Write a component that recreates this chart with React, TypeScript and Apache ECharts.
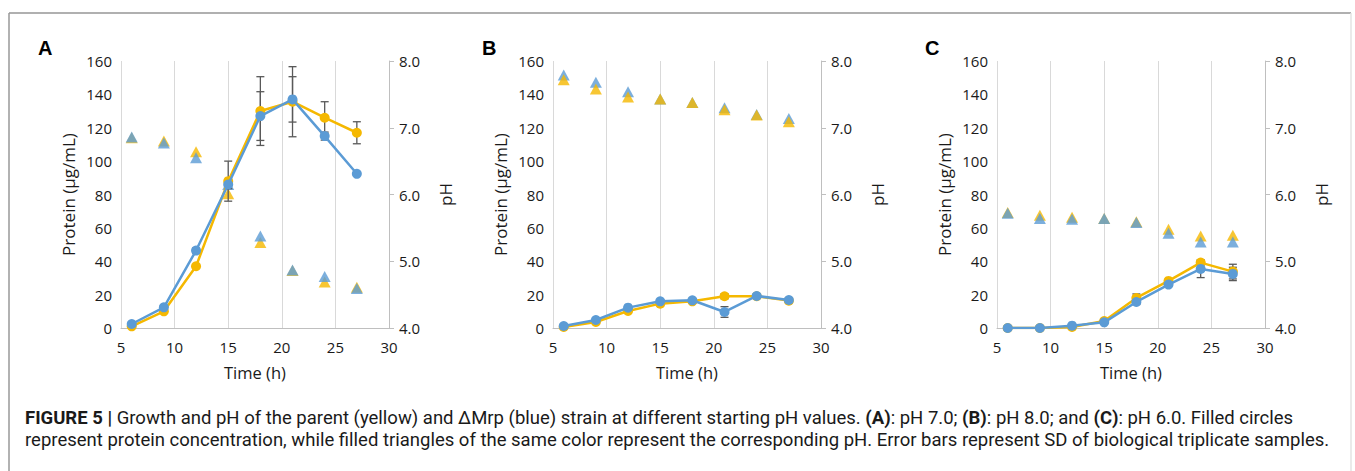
import React, { useEffect, useRef } from "react";
import * as echarts from "echarts";

const times = [6, 9, 12, 15, 18, 21, 24, 27];
const panelLetters = ["A", "B", "C"];

// Panel A (starting pH 7.0)
const aParentProtein = [1, 10, 37, 88, 130, 135.6, 126, 117];
const aMrpProtein = [2.4, 12.4, 46.4, 86, 127, 137, 115, 92.4];
const aParentSD = [0.5, 1, 1, 12, 20.6, 21, 9.6, 6.6];
const aMrpSD = [0.5, 1, 1.5, 2.5, 14.6, 13.6, 2.4, 0.5];
const aParentPH = [6.85, 6.8, 6.64, 6.01, 5.28, 4.86, 4.69, 4.61];
const aMrpPH = [6.86, 6.77, 6.55, 6.15, 5.38, 4.87, 4.77, 4.59];

// Panel B (starting pH 8.0)
const bParentProtein = [0.6, 3.6, 10.2, 14.6, 16, 19, 19, 16.4];
const bMrpProtein = [1.2, 4.8, 12.2, 16, 16.6, 9.6, 19.2, 16.8];
const bParentSD = [0.3, 0.5, 1, 1, 1, 1.5, 1, 1];
const bMrpSD = [0.3, 0.5, 1, 1, 1, 3.2, 1, 1];
const bParentPH = [7.72, 7.58, 7.46, 7.43, 7.38, 7.27, 7.19, 7.09];
const bMrpPH = [7.79, 7.68, 7.54, 7.43, 7.38, 7.3, 7.2, 7.14];

// Panel C (starting pH 6.0)
const cParentProtein = [0, 0, 0.6, 4.2, 18, 28.2, 39.2, 33.8];
const cMrpProtein = [0, 0, 1.4, 3.4, 15.6, 26, 35.4, 32.4];
const cParentSD = [0, 0, 0.3, 0.8, 2.4, 1, 1.5, 4.4];
const cMrpSD = [0, 0, 0.3, 0.6, 1.5, 1, 5.2, 4];
const cParentPH = [5.73, 5.69, 5.66, 5.64, 5.59, 5.48, 5.38, 5.39];
const cMrpPH = [5.72, 5.64, 5.63, 5.64, 5.58, 5.42, 5.29, 5.29];

const proteinTicks = { min: 0, max: 160, interval: 20 };
const phTicks = { min: 4, max: 8, interval: 1 };
const timeTicks = { min: 5, max: 30, interval: 5 };

const YELLOW = "#F5B800";
const BLUE = "#5B9BD5";
const ERR = "#595959";
const AX_FONT = "'Open Sans', sans-serif";

const panels = [
  { pp: aParentProtein, mp: aMrpProtein, ps: aParentSD, ms: aMrpSD, pph: aParentPH, mph: aMrpPH, yellowOnTop: false },
  { pp: bParentProtein, mp: bMrpProtein, ps: bParentSD, ms: bMrpSD, pph: bParentPH, mph: bMrpPH, yellowOnTop: true },
  { pp: cParentProtein, mp: cMrpProtein, ps: cParentSD, ms: cMrpSD, pph: cParentPH, mph: cMrpPH, yellowOnTop: false },
];

const gridLefts = [121, 553, 997];
const GRID_W = 268;
const GRID_TOP = 61;
const GRID_H = 267;

function errorSeries(xi: number, yi: number, means: number[], sds: number[], z: number) {
  return {
    type: "custom",
    xAxisIndex: xi,
    yAxisIndex: yi,
    z,
    silent: true,
    data: times.map((t, i) => [t, means[i] - sds[i], means[i] + sds[i]]),
    renderItem: (params: any, api: any) => {
      const x = api.value(0);
      const lo = api.coord([x, api.value(1)]);
      const hi = api.coord([x, api.value(2)]);
      const cap = 4;
      const st = { stroke: ERR, lineWidth: 1.3 };
      return {
        type: "group",
        children: [
          { type: "line", shape: { x1: lo[0], y1: lo[1], x2: hi[0], y2: hi[1] }, style: st },
          { type: "line", shape: { x1: lo[0] - cap, y1: lo[1], x2: lo[0] + cap, y2: lo[1] }, style: st },
          { type: "line", shape: { x1: hi[0] - cap, y1: hi[1], x2: hi[0] + cap, y2: hi[1] }, style: st },
        ],
      };
    },
  };
}

export default function App() {
  const ref = useRef<HTMLDivElement>(null);
  useEffect(() => {
    if (!ref.current) return;
    const chart = echarts.init(ref.current, undefined, { renderer: "svg" });

    const grids: any[] = [];
    const xAxes: any[] = [];
    const yAxes: any[] = [];
    const series: any[] = [];
    const graphics: any[] = [];

    panels.forEach((p, k) => {
      grids.push({ left: gridLefts[k], top: GRID_TOP, width: GRID_W, height: GRID_H });
      xAxes.push({
        type: "value",
        gridIndex: k,
        ...timeTicks,
        name: "Time (h)",
        nameLocation: "middle",
        nameGap: 36,
        nameTextStyle: { fontFamily: AX_FONT, fontSize: 16.5, color: "#1a1a1a" },
        axisLine: { show: true, onZero: false, lineStyle: { color: "#bfbfbf", width: 1 } },
        axisTick: { show: false },
        axisLabel: { fontFamily: AX_FONT, fontSize: 15, color: "#1a1a1a", margin: 11 },
        splitLine: { show: true, lineStyle: { color: "#d9d9d9", width: 1 } },
      });
      yAxes.push({
        type: "value",
        gridIndex: k,
        position: "left",
        ...proteinTicks,
        name: "Protein (µg/mL)",
        nameLocation: "middle",
        nameRotate: 90,
        nameGap: 44,
        nameTextStyle: { fontFamily: AX_FONT, fontSize: 17, color: "#1a1a1a" },
        axisLine: { show: false },
        axisTick: { show: false },
        axisLabel: { fontFamily: AX_FONT, fontSize: 15, color: "#1a1a1a", margin: 9 },
        splitLine: { show: false },
      });
      yAxes.push({
        type: "value",
        gridIndex: k,
        position: "right",
        ...phTicks,
        name: "pH",
        nameLocation: "middle",
        nameRotate: 90,
        nameGap: 48,
        nameTextStyle: { fontFamily: AX_FONT, fontSize: 17, color: "#1a1a1a" },
        axisLine: { show: true, lineStyle: { color: "#bfbfbf", width: 1 } },
        axisTick: { show: true, inside: false, length: 5, lineStyle: { color: "#bfbfbf" } },
        axisLabel: { fontFamily: AX_FONT, fontSize: 15, color: "#1a1a1a", margin: 10, formatter: (v: number) => v.toFixed(1) },
        splitLine: { show: false },
      });
      const yl = k * 2;
      const yr = k * 2 + 1;
      series.push(
        {
          type: "scatter", xAxisIndex: k, yAxisIndex: yr, symbol: "triangle", symbolSize: [12, 11],
          itemStyle: { color: YELLOW }, data: times.map((t, i) => [t, p.pph[i]]), z: p.yellowOnTop ? 3 : 2,
        },
        {
          type: "scatter", xAxisIndex: k, yAxisIndex: yr, symbol: "triangle", symbolSize: [12, 11],
          itemStyle: { color: BLUE }, data: times.map((t, i) => [t, p.mph[i]]), z: p.yellowOnTop ? 2 : 3,
        }
      );
      series.push(errorSeries(k, yl, p.pp, p.ps, 4));
      series.push(errorSeries(k, yl, p.mp, p.ms, 4));
      series.push({
        type: "line", xAxisIndex: k, yAxisIndex: yl, symbol: "circle", symbolSize: 10, showSymbol: true,
        lineStyle: { color: YELLOW, width: 2.5 }, itemStyle: { color: YELLOW }, z: 5,
        data: times.map((t, i) => [t, p.pp[i]]),
      });
      series.push({
        type: "line", xAxisIndex: k, yAxisIndex: yl, symbol: "circle", symbolSize: 10, showSymbol: true,
        lineStyle: { color: BLUE, width: 2.5 }, itemStyle: { color: BLUE }, z: 6,
        data: times.map((t, i) => [t, p.mp[i]]),
      });

      graphics.push({
        type: "text",
        left: [38, 482, 925][k],
        top: 38,
        style: { text: panelLetters[k], font: "bold 20px 'Liberation Sans', Arial, sans-serif", fill: "#000" },
      });
    });

    // frame
    graphics.push({ type: "line", shape: { x1: 9, y1: 13, x2: 1351, y2: 13 }, style: { stroke: "#b0b0b0", lineWidth: 2 } });
    graphics.push({ type: "line", shape: { x1: 9, y1: 13, x2: 9, y2: 471 }, style: { stroke: "#999", lineWidth: 1.5 } });
    graphics.push({ type: "line", shape: { x1: 1351, y1: 13, x2: 1351, y2: 471 }, style: { stroke: "#e3e3e3", lineWidth: 1.5 } });

    const capFont = "'Roboto', 'Liberation Sans', sans-serif";
    const rich = {
      b: { fontFamily: capFont, fontWeight: "bold", fontSize: 18.5, fill: "#1a1a1a", color: "#1a1a1a" },
      n: { fontFamily: capFont, fontWeight: "normal", fontSize: 18.5, fill: "#1a1a1a", color: "#1a1a1a" },
    };
    graphics.push({
      type: "text",
      left: 25,
      top: 408,
      style: {
        text:
          "{b|FIGURE 5 |}{n| Growth and pH of the parent (yellow) and ΔMrp (blue) strain at different starting pH values. }{b|(A)}{n|: pH 7.0; }{b|(B)}{n|: pH 8.0; and }{b|(C)}{n|: pH 6.0. Filled circles}",
        rich,
      },
    });
    graphics.push({
      type: "text",
      left: 25,
      top: 430,
      style: {
        text:
          "{n|represent protein concentration, while filled triangles of the same color represent the corresponding pH. Error bars represent SD of biological triplicate samples.}",
        rich,
      },
    });

    chart.setOption({
      animation: false,
      backgroundColor: "#fff",
      grid: grids,
      xAxis: xAxes,
      yAxis: yAxes,
      series,
      graphic: graphics,
    });
    return () => chart.dispose();
  }, []);
  return (
    <div
      ref={ref}
      style={{ position: "fixed", left: 0, top: 0, width: 1355, height: 471 }}
    />
  );
}
